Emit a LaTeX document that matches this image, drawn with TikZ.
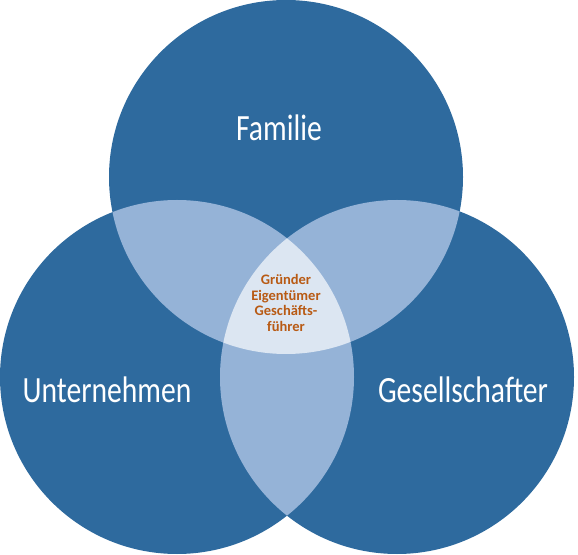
\documentclass[tikz,border=0pt]{standalone}
\usepackage{fontspec}
\setmainfont{Carlito}
\newfontfamily\circlefont[FakeStretch=0.8]{Carlito}
\usetikzlibrary{positioning}
\definecolor{darkblue}{HTML}{2E6A9E}
\definecolor{lightblue}{HTML}{95B3D7}
\definecolor{paleblue}{HTML}{DCE6F2}
\definecolor{rolebrown}{HTML}{B85A14}

\begin{document}
\begin{tikzpicture}[x=1pt,y=1pt,
    circlelabel/.style={text=white, font=\circlefont\fontsize{37}{40}\selectfont},
    rolelabel/.style={text=rolebrown, align=center, font=\bfseries\fontsize{14.5}{15.5}\selectfont}]
  \useasboundingbox (0,0) rectangle (578,554);
  \coordinate (fam) at (286,377);
  \coordinate (unt) at (177,177);
  \coordinate (ges) at (397,177);

  % circles
  \foreach \c in {fam,unt,ges} {
    \fill[darkblue] (\c) circle (177pt);
  }

  % overlaps
  \begin{scope}
    \clip (fam) circle (177pt);
    \fill[lightblue] (unt) circle (177pt);
    \fill[lightblue] (ges) circle (177pt);
  \end{scope}
  \begin{scope}
    \clip (unt) circle (177pt);
    \fill[lightblue] (ges) circle (177pt);
  \end{scope}
  \begin{scope}
    \clip (fam) circle (177pt);
    \clip (unt) circle (177pt);
    \fill[paleblue] (ges) circle (177pt);
  \end{scope}

  % labels
  \node[circlelabel] (familie) at (279,426) {Familie};
  \node[circlelabel] (unternehmen) at (107,164) {Unternehmen};
  \node[circlelabel] (gesellschafter) at (463,164) {Gesellschafter};
  \node[rolelabel] (rollen) at (286,251) {Gründer\\Eigentümer\\Geschäfts-\\führer};
\end{tikzpicture}
\end{document}
